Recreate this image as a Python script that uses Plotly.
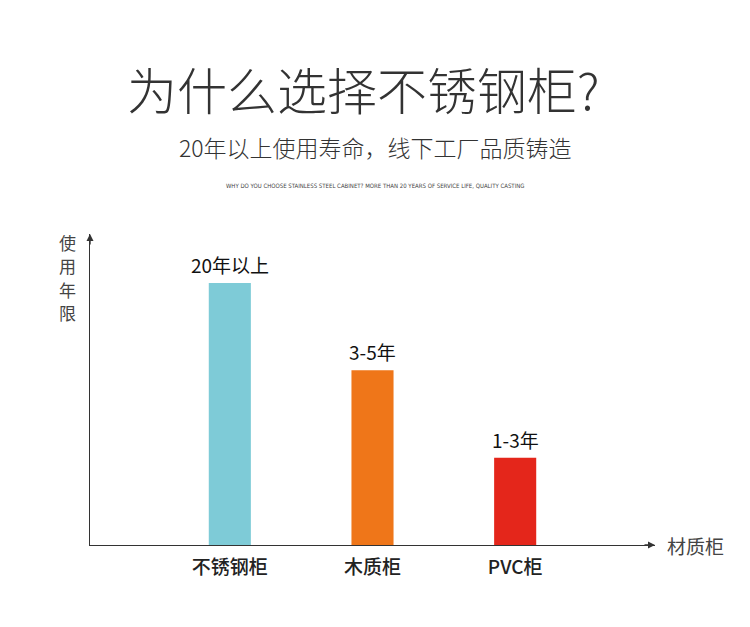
import plotly.graph_objects as go

# data
categories = ["不锈钢柜", "木质柜", "PVC柜"]
life_score = [3, 2, 1]  # relative bar heights
life_labels = ["20年以上", "3-5年", "1-3年"]
bar_colors = ["#7ecbd7", "#ef7619", "#e4261b"]

title_text = "为什么选择不锈钢柜?"
subtitle_text = "20年以上使用寿命，线下工厂品质铸造"
english_text = ("WHY DO YOU CHOOSE STAINLESS STEEL CABINET? MORE THAN 20 YEARS "
                "OF SERVICE LIFE, QUALITY CASTING")
y_title = "使用年限"
x_title = "材质柜"

CJK = "Noto Sans CJK SC"
AXIS_COLOR = "#333333"

# plot area in page pixels (used to place the free text)
PX_L, PX_R, PX_T, PX_B = 90, 655, 234, 545


def px_x(x):
    return (x - PX_L) / (PX_R - PX_L)


def px_y(y):
    return (PX_B - y) / (PX_B - PX_T)


fig = go.Figure(
    go.Bar(
        x=categories,
        y=life_score,
        marker=dict(color=bar_colors, line=dict(width=0)),
        width=0.295,
        hoverinfo="skip",
    )
)

# value labels above each bar
annotations = []
for cat, val, lab in zip(categories, life_score, life_labels):
    annotations.append(dict(
        x=cat, y=val, xref="x", yref="y", text=lab, showarrow=False,
        yanchor="bottom", yshift=3,
        font=dict(family=CJK, size=19, color="#111111", weight=400),
    ))

# headings
annotations += [
    dict(x=px_x(363), y=px_y(88), xref="paper", yref="paper", text=title_text,
         showarrow=False, xanchor="center", yanchor="middle",
         font=dict(family=CJK, size=50, color="#333333", weight=300)),
    dict(x=px_x(375), y=px_y(147), xref="paper", yref="paper", text=subtitle_text,
         showarrow=False, xanchor="center", yanchor="middle",
         font=dict(family=CJK, size=23, color="#333333", weight=300)),
    dict(x=px_x(375), y=px_y(185), xref="paper", yref="paper", text=english_text,
         showarrow=False, xanchor="center", yanchor="middle",
         font=dict(family="Liberation Sans Narrow, DejaVu Sans Condensed, Liberation Sans",
                   size=6, color="#444444")),
]

# vertical axis title, one character per line
for i, ch in enumerate(y_title):
    annotations.append(dict(
        x=px_x(67), y=px_y(242 + 23.5 * i), xref="paper", yref="paper",
        text=ch, showarrow=False, xanchor="center", yanchor="middle",
        borderpad=0,
        font=dict(family=CJK, size=17, color="#444444"),
    ))

annotations.append(dict(
    x=px_x(695), y=px_y(545), xref="paper", yref="paper", text=x_title,
    showarrow=False, xanchor="center", yanchor="middle",
    font=dict(family=CJK, size=19, color="#444444"),
))

# arrow heads at the ends of the axes
annotations += [
    dict(x=0, y=1, xref="x domain", yref="y domain", ax=0, ay=12,
         axref="pixel", ayref="pixel", text="", showarrow=True,
         arrowhead=2, arrowsize=1, arrowwidth=1.4, arrowcolor=AXIS_COLOR),
    dict(x=1, y=0, xref="x domain", yref="y domain", ax=-12, ay=0,
         axref="pixel", ayref="pixel", text="", showarrow=True,
         arrowhead=2, arrowsize=1, arrowwidth=1.4, arrowcolor=AXIS_COLOR),
]

fig.update_layout(
    width=750,
    height=627,
    margin=dict(l=82, r=103, t=226, b=90),
    paper_bgcolor="white",
    plot_bgcolor="white",
    showlegend=False,
    annotations=annotations,
    xaxis=dict(
        range=[-0.98, 2.98],
        showline=True, linecolor=AXIS_COLOR, linewidth=1.4,
        showgrid=False, zeroline=False, ticks="",
        ticklabelstandoff=5,
        tickfont=dict(family=CJK, size=19, color="#222222", weight=500),
        fixedrange=True,
    ),
    yaxis=dict(
        range=[0, 3.56],
        showline=True, linecolor=AXIS_COLOR, linewidth=1.4,
        showgrid=False, zeroline=False, showticklabels=False, ticks="",
        fixedrange=True,
    ),
)

fig.write_html("out.html")
